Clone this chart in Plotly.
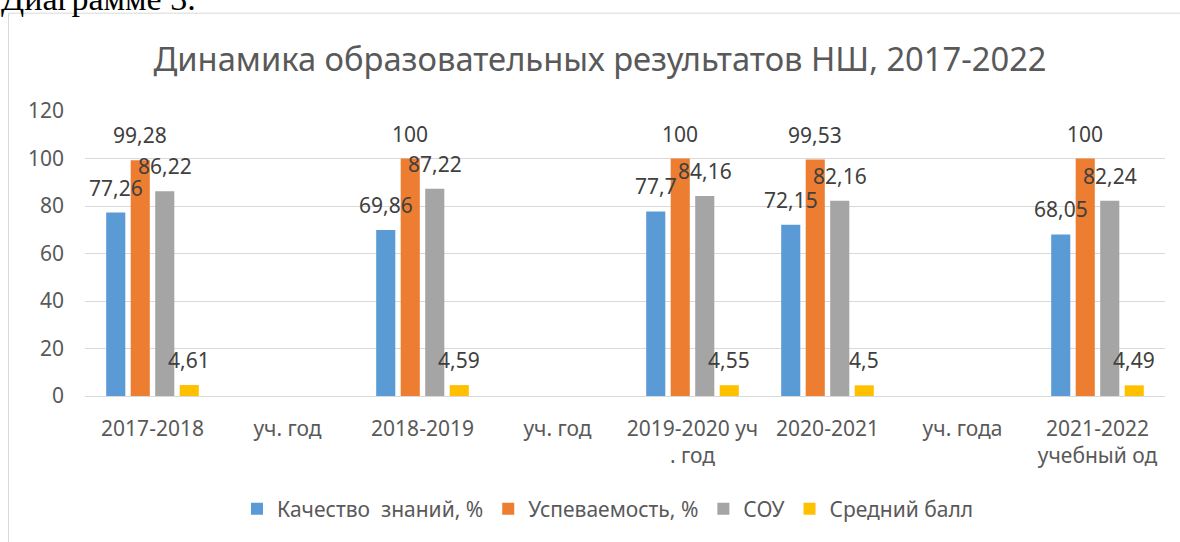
import plotly.graph_objects as go

categories = ["2017-2018", "уч. год", "2018-2019", "уч. год", "2019-2020 уч<br>. год",
              "2020-2021", "уч. года", "2021-2022<br>учебный од"]
series_names = ["Качество  знаний, %", "Успеваемость, %", "СОУ", "Средний балл"]
kachestvo = [77.26, None, 69.86, None, 77.7, 72.15, None, 68.05]
uspevaemost = [99.28, None, 100, None, 100, 99.53, None, 100]
sou = [86.22, None, 87.22, None, 84.16, 82.16, None, 82.24]
sredniy = [4.61, None, 4.59, None, 4.55, 4.5, None, 4.49]
y_ticks = [0, 20, 40, 60, 80, 100, 120]

series_values = [kachestvo, uspevaemost, sou, sredniy]
colors = ["#5B9BD5", "#ED7D31", "#A5A5A5", "#FFC000"]

W, H = 1180, 542
ML, MR, MT, MB = 85, 15, 111, 144
PW = W - ML - MR
PH = H - MT - MB
FONT = "Noto Sans"

x_idx = list(range(len(categories)))

fig = go.Figure()
for name, vals, col in zip(series_names, series_values, colors):
    fig.add_trace(go.Bar(x=x_idx, y=vals, name=name, marker_color=col,
                         marker_line_width=0))

bargap = 0.274
slot = PW / len(categories) * (1 - bargap) / len(series_names)

def fmt(v):
    s = ("%g" % v)
    return s.replace(".", ",")

annotations = []
for si, vals in enumerate(series_values):
    for xi, v in zip(x_idx, vals):
        if v is None:
            continue
        annotations.append(dict(x=xi, y=v, xref="x", yref="y", text=fmt(v),
                                showarrow=False, yanchor="middle", xanchor="center",
                                xshift=(si - 1.5) * slot, yshift=25,
                                font=dict(family=FONT, size=21, color="#404040")))

def px_to_paper_x(px):
    return (px - ML) / PW

def px_to_paper_y(py):
    return (H - MB - py) / PH

annotations.append(dict(x=px_to_paper_x(-1), y=px_to_paper_y(18.5), xref="paper", yref="paper",
                        text="Диаграмме 3.", showarrow=False, xanchor="left", yanchor="bottom",
                        font=dict(family="Liberation Serif", size=34, color="#000000")))

fig.update_layout(
    width=W, height=H,
    margin=dict(l=ML, r=MR, t=MT, b=MB, pad=0),
    paper_bgcolor="white", plot_bgcolor="white",
    barmode="group", bargap=bargap, bargroupgap=0.22,
    title=dict(text="Динамика образовательных результатов НШ, 2017-2022",
               x=600 / W, xanchor="center", y=1 - 60 / H, yanchor="middle",
               font=dict(family=FONT, size=32.7, color="#595959")),
    xaxis=dict(tickmode="array", tickvals=x_idx, ticktext=categories,
               range=[-0.5, len(categories) - 0.5], showgrid=False, showline=False,
               zeroline=False, ticks="", ticklabelstandoff=18,
               tickfont=dict(family=FONT, size=21, color="#595959")),
    yaxis=dict(range=[0, 120], tickmode="array", tickvals=y_ticks,
               showgrid=True, gridcolor="#D9D9D9", gridwidth=1, zeroline=True,
               zerolinecolor="#D9D9D9", zerolinewidth=1, showline=False, ticks="",
               ticklabelstandoff=20,
               tickfont=dict(family=FONT, size=21, color="#595959")),
    legend=dict(orientation="h", x=px_to_paper_x(608), xanchor="center",
                y=px_to_paper_y(512), yanchor="middle",
                font=dict(family=FONT, size=21, color="#595959"),
                itemwidth=30, traceorder="normal"),
    annotations=annotations,
    shapes=[dict(type="rect", xref="paper", yref="paper",
                 x0=px_to_paper_x(8.5), x1=px_to_paper_x(1200),
                 y0=px_to_paper_y(580), y1=px_to_paper_y(12.5),
                 line=dict(color="#D9D9D9", width=1), fillcolor="rgba(0,0,0,0)", layer="below")],
)

fig.write_html("out.html")
